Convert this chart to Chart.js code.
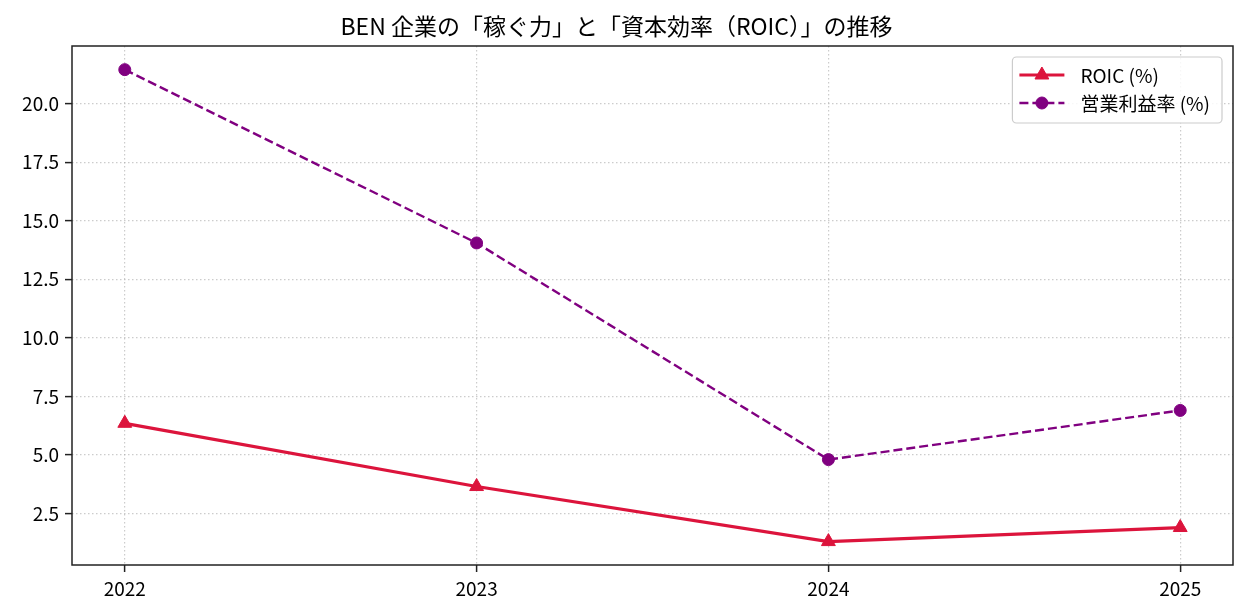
<!DOCTYPE html>
<html lang="ja">
<head>
<meta charset="utf-8">
<title>BEN 企業の「稼ぐ力」と「資本効率（ROIC）」の推移</title>
<script src="https://cdn.jsdelivr.net/npm/chart.js@4/dist/chart.umd.min.js"></script>
<style>
  html, body { margin: 0; padding: 0; background: #ffffff; }
  #wrap { width: 1249px; height: 616px; }
</style>
</head>
<body>
<div id="wrap"><canvas id="trendChart" width="1249" height="616"></canvas></div>
<script>
  const FONT = "'Noto Sans CJK JP', 'Noto Sans', sans-serif";

  const title = "BEN 企業の「稼ぐ力」と「資本効率（ROIC）」の推移";
  const years = [2022, 2023, 2024, 2025];
  const roic = [6.35, 3.65, 1.3, 1.9];
  const opMargin = [21.45, 14.05, 4.8, 6.9];
  const yTicks = [2.5, 5.0, 7.5, 10.0, 12.5, 15.0, 17.5, 20.0];
  const labels = ["ROIC (%)", "営業利益率 (%)"];

  const points = (vals) => years.map((yr, i) => ({ x: yr, y: vals[i] }));

  // 枠線 (matplotlib風の四辺)
  const framePlugin = {
    id: "frame",
    afterDraw(chart) {
      const { ctx, chartArea: a } = chart;
      ctx.save();
      ctx.strokeStyle = "#222222";
      ctx.lineWidth = 1.5;
      ctx.strokeRect(a.left, a.top, a.right - a.left, a.bottom - a.top);
      ctx.restore();
    },
  };

  // 凡例 (右上・枠付き)
  const legendPlugin = {
    id: "boxLegend",
    afterDraw(chart) {
      const { ctx, chartArea: a } = chart;
      ctx.save();
      ctx.font = "19px " + FONT;
      const textW = Math.max(...chart.data.datasets.map((d) => ctx.measureText(d.label).width));
      const w = 68 + textW + 12;
      const h = 66;
      const right = a.right - 11;
      const left = right - w;
      const top = a.top + 11;

      ctx.fillStyle = "rgba(255,255,255,0.85)";
      ctx.strokeStyle = "#cccccc";
      ctx.lineWidth = 1.2;
      ctx.beginPath();
      ctx.roundRect(left, top, w, h, 4);
      ctx.fill();
      ctx.stroke();

      chart.data.datasets.forEach((d, i) => {
        const cy = top + 18 + i * 28;
        const x0 = left + 7;
        const x1 = left + 52;
        ctx.strokeStyle = d.borderColor;
        ctx.lineWidth = d.borderWidth;
        ctx.setLineDash(d.borderDash || []);
        ctx.beginPath();
        ctx.moveTo(x0, cy);
        ctx.lineTo(x1, cy);
        ctx.stroke();
        ctx.setLineDash([]);
        ctx.fillStyle = d.pointBackgroundColor;
        ctx.strokeStyle = d.pointBackgroundColor;
        ctx.lineWidth = 1;
        Chart.helpers.drawPoint(ctx, {
          pointStyle: d.pointStyle,
          radius: d.pointRadius,
          borderWidth: 1,
        }, (x0 + x1) / 2, cy);
        ctx.fillStyle = "#000000";
        ctx.textBaseline = "middle";
        ctx.textAlign = "left";
        ctx.fillText(d.label, left + 68, cy + 1);
      });
      ctx.restore();
    },
  };

  const gridOpts = {
    color: "rgba(170,170,170,0.6)",
    lineWidth: 1.2,
    tickColor: "#222222",
    tickWidth: 1.5,
    tickLength: 7,
  };

  new Chart(document.getElementById("trendChart"), {
    type: "line",
    data: {
      datasets: [
        {
          label: labels[0],
          data: points(roic),
          borderColor: "#dc143c",
          backgroundColor: "#dc143c",
          pointBackgroundColor: "#dc143c",
          pointBorderColor: "#dc143c",
          borderWidth: 3.2,
          pointStyle: "triangle",
          pointRadius: 8,
          pointBorderWidth: 1,
          tension: 0,
        },
        {
          label: labels[1],
          data: points(opMargin),
          borderColor: "#800080",
          backgroundColor: "#800080",
          pointBackgroundColor: "#800080",
          pointBorderColor: "#800080",
          borderWidth: 2.4,
          borderDash: [9, 4],
          pointStyle: "circle",
          pointRadius: 6,
          pointBorderWidth: 1,
          tension: 0,
        },
      ],
    },
    options: {
      responsive: false,
      animation: false,
      layout: { padding: { left: 0, right: 16, top: 0, bottom: 0 } },
      plugins: {
        legend: { display: false },
        tooltip: { enabled: false },
        title: {
          display: true,
          text: title,
          color: "#000000",
          font: { family: FONT, size: 23, weight: "normal" },
          padding: { top: 12, bottom: 6.4 },
        },
      },
      scales: {
        x: {
          type: "linear",
          min: 2021.85,
          max: 2025.15,
          afterBuildTicks: (scale) => {
            scale.ticks = years.map((v) => ({ value: v }));
          },
          afterFit: (scale) => {
            scale.height = 51;
          },
          grid: gridOpts,
          border: { display: false, dash: [1.5, 2.5] },
          ticks: {
            color: "#000000",
            padding: 5,
            maxRotation: 0,
            font: { family: FONT, size: 19 },
            callback: (v) => String(v),
          },
        },
        y: {
          type: "linear",
          min: 0.3,
          max: 22.46,
          afterBuildTicks: (scale) => {
            scale.ticks = yTicks.map((v) => ({ value: v }));
          },
          afterFit: (scale) => {
            scale.width = 72;
          },
          grid: gridOpts,
          border: { display: false, dash: [1.5, 2.5] },
          ticks: {
            color: "#000000",
            padding: 6,
            font: { family: FONT, size: 19 },
            callback: (v) => Number(v).toFixed(1),
          },
        },
      },
    },
    plugins: [framePlugin, legendPlugin],
  });
</script>
</body>
</html>
